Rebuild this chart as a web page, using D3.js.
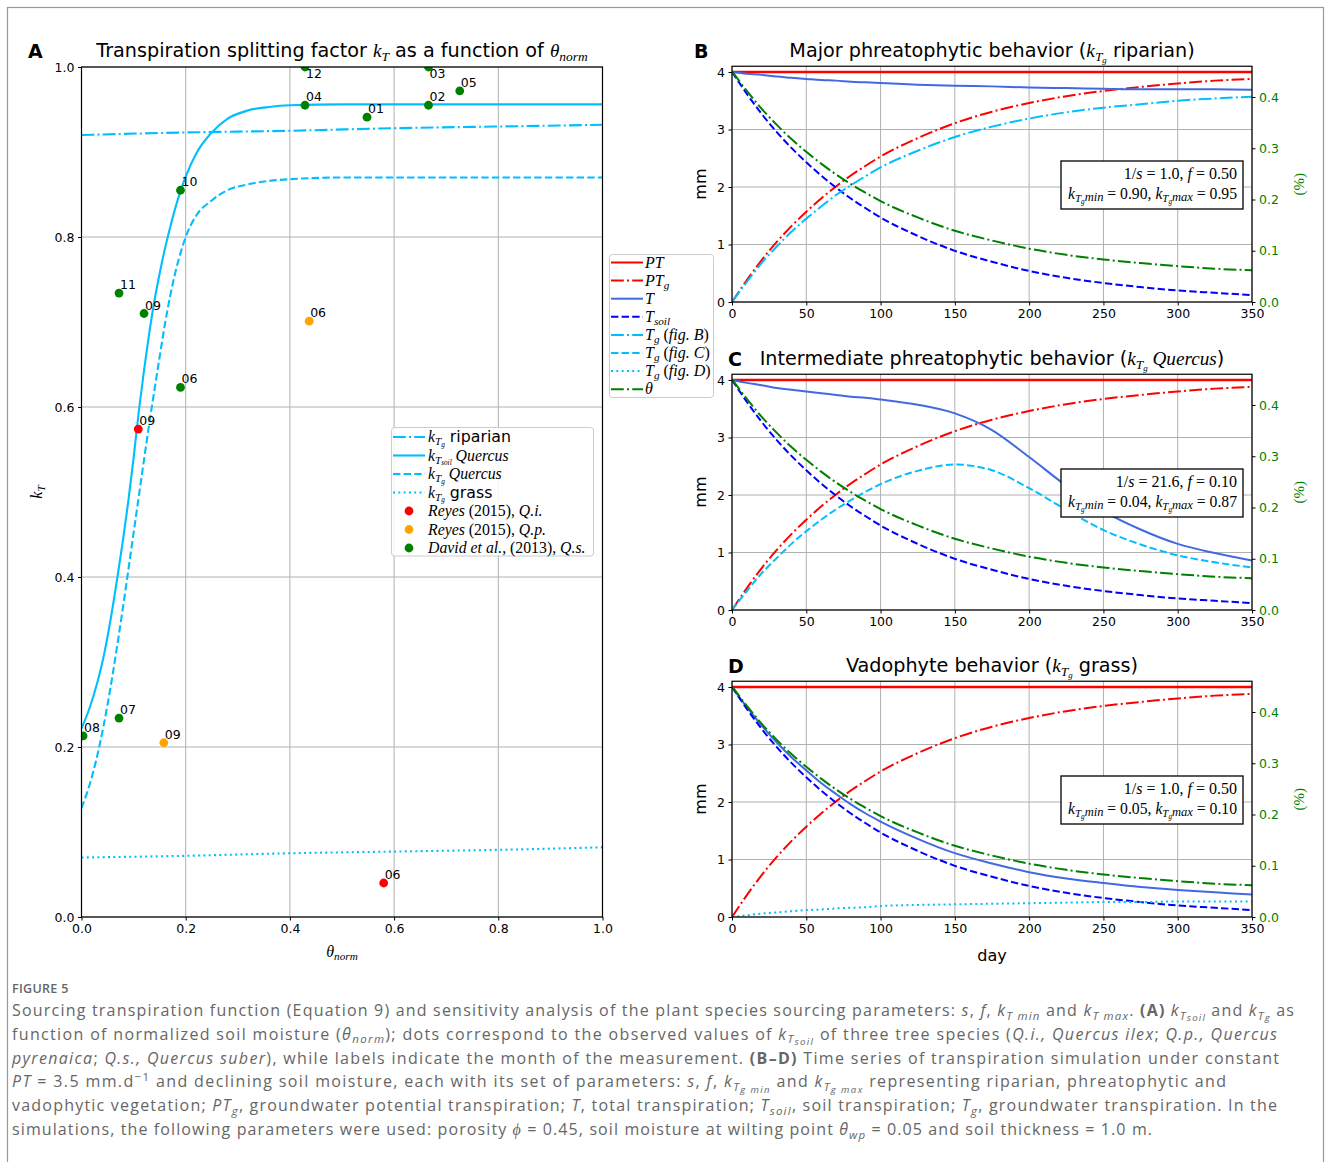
<!DOCTYPE html>
<html lang="en">
<head>
<meta charset="UTF-8">
<title>Figure 5 - transpiration splitting factor</title>
<script src="https://d3js.org/d3.v7.min.js"></script>
<style>
  body { margin: 0; background: #fff; }
  svg text { white-space: pre; }
</style>
</head>
<body>
<script>
// ---------- data: panel A (k_T vs theta_norm) ----------
const ripTheta = [0, 0.2, 0.4, 0.6, 0.8, 1.0];
const ripK     = [0.920, 0.923, 0.925, 0.928, 0.930, 0.932];

const soilTheta = [0, 0.015, 0.03, 0.042, 0.055, 0.069, 0.08, 0.09, 0.10, 0.11, 0.12, 0.13, 0.14, 0.15, 0.16, 0.17, 0.18, 0.19, 0.20, 0.22, 0.25, 0.28, 0.32, 0.36, 0.40, 0.50, 0.70, 1.0];
const soilK     = [0.222, 0.245, 0.275, 0.305, 0.347, 0.40, 0.445, 0.49, 0.54, 0.595, 0.643, 0.687, 0.725, 0.757, 0.786, 0.811, 0.834, 0.854, 0.871, 0.898, 0.923, 0.939, 0.949, 0.953, 0.955, 0.956, 0.956, 0.956];

const quercusTheta = [0, 0.02, 0.034, 0.05, 0.07, 0.088, 0.10, 0.11, 0.12, 0.13, 0.14, 0.15, 0.16, 0.17, 0.18, 0.19, 0.20, 0.22, 0.25, 0.28, 0.32, 0.36, 0.40, 0.50, 0.70, 1.0];
const quercusK     = [0.128, 0.165, 0.20, 0.25, 0.325, 0.40, 0.452, 0.495, 0.538, 0.58, 0.62, 0.659, 0.697, 0.73, 0.758, 0.781, 0.80, 0.825, 0.843, 0.855, 0.862, 0.866, 0.868, 0.870, 0.870, 0.870];

const grassTheta = [0, 0.2, 0.4, 0.6, 0.8, 1.0];
const grassK     = [0.070, 0.072, 0.075, 0.077, 0.079, 0.082];

// observed points (month labels)
const qiTheta = [0.109, 0.580], qiK = [0.574, 0.040], qiMonth = ["09", "06"];
const qpTheta = [0.437, 0.158], qpK = [0.701, 0.205], qpMonth = ["06", "09"];
const qsTheta = [0.548, 0.666, 0.666, 0.429, 0.726, 0.190, 0.072, 0.003, 0.120, 0.190, 0.072, 0.429];
const qsK     = [0.941, 0.955, 1.000, 0.955, 0.972, 0.623, 0.234, 0.213, 0.710, 0.855, 0.734, 1.000];
const qsMonth = ["01", "02", "03", "04", "05", "06", "07", "08", "09", "10", "11", "12"];

// ---------- data: panels B-D (time series) ----------
const days  = [0, 10, 20, 30, 40, 50, 60, 70, 80, 90, 100, 125, 150, 175, 200, 225, 250, 275, 300, 325, 350];
const pt    = [4, 4, 4, 4, 4, 4, 4, 4, 4, 4, 4, 4, 4, 4, 4, 4, 4, 4, 4, 4, 4];
const ptg   = [0, 0.38, 0.73, 1.04, 1.32, 1.57, 1.80, 2.01, 2.20, 2.37, 2.53, 2.85, 3.11, 3.31, 3.46, 3.58, 3.67, 3.74, 3.80, 3.85, 3.88];
const tsoil = [4, 3.62, 3.27, 2.96, 2.68, 2.43, 2.20, 1.99, 1.80, 1.63, 1.47, 1.15, 0.89, 0.70, 0.54, 0.42, 0.33, 0.26, 0.20, 0.16, 0.12];
const theta = [0.450, 0.412, 0.377, 0.346, 0.318, 0.293, 0.270, 0.249, 0.230, 0.213, 0.197, 0.165, 0.139, 0.120, 0.104, 0.092, 0.083, 0.076, 0.070, 0.065, 0.062];

const tgB = [0, 0.35, 0.68, 0.96, 1.22, 1.45, 1.66, 1.86, 2.03, 2.19, 2.34, 2.63, 2.87, 3.05, 3.19, 3.30, 3.38, 3.44, 3.50, 3.54, 3.57];
const tB  = [4, 3.97, 3.95, 3.92, 3.90, 3.88, 3.86, 3.85, 3.83, 3.82, 3.81, 3.78, 3.76, 3.75, 3.73, 3.72, 3.71, 3.70, 3.70, 3.70, 3.69];
const tgC = [0, 0.33, 0.64, 0.90, 1.15, 1.37, 1.57, 1.75, 1.91, 2.06, 2.19, 2.42, 2.53, 2.43, 2.12, 1.74, 1.39, 1.14, 0.95, 0.83, 0.74];
const tC  = [4, 3.95, 3.91, 3.86, 3.83, 3.80, 3.77, 3.74, 3.71, 3.69, 3.66, 3.57, 3.42, 3.13, 2.66, 2.16, 1.72, 1.40, 1.15, 0.99, 0.86];
const tgD = [0, 0.03, 0.06, 0.08, 0.10, 0.12, 0.13, 0.15, 0.16, 0.17, 0.19, 0.21, 0.22, 0.23, 0.24, 0.25, 0.26, 0.26, 0.27, 0.27, 0.27];
const tD  = [4, 3.65, 3.33, 3.04, 2.78, 2.55, 2.33, 2.14, 1.96, 1.80, 1.66, 1.36, 1.11, 0.93, 0.78, 0.67, 0.59, 0.52, 0.47, 0.43, 0.39];

const kTicks   = [0, 0.2, 0.4, 0.6, 0.8, 1.0];
const dayTicks = [0, 50, 100, 150, 200, 250, 300, 350];
const mmTicks  = [0, 1, 2, 3, 4];
const pctTicks = [0, 0.1, 0.2, 0.3, 0.4];

// ---------- setup ----------
const W = 1331, H = 1162;
const SANS = "DejaVu Sans", SERIF = "Liberation Serif", CAP = "Open Sans";
const DASHDOT = "12.8,3.2,2,3.2", DASHED = "7.4,3.2", DOTTED = "2,3.3";

const STY = {
  s:   {f: SANS},
  r:   {f: SERIF},
  m:   {f: SERIF, i: true},
  ms:  {f: SERIF, i: true, k: 0.7, d: 0.2},
  mss: {f: SERIF, i: true, k: 0.46, d: 0.3},
  mn:  {f: SERIF, i: true, k: 0.8, d: 0.12},
  c:   {f: CAP},
  ci:  {f: CAP, i: true},
  cb:  {f: CAP, w: 700},
  cs:  {f: CAP, i: true, k: 0.72, d: 0.22},
  css: {f: CAP, i: true, k: 0.6, d: 0.34},
  cp:  {f: CAP, k: 0.72, d: -0.4}
};

// writes mixed-style text into a <text> element
function rich(el, parts, size) {
  let cur = 0;
  parts.forEach(([txt, key]) => {
    const st = STY[key];
    const off = (st.d || 0) * size;
    el.append("tspan")
      .attr("dy", off - cur)
      .attr("font-family", st.f)
      .attr("font-style", st.i ? "italic" : "normal")
      .attr("font-weight", st.w || 400)
      .attr("font-size", size * (st.k || 1))
      .text(txt);
    cur = off;
  });
  return el;
}

const svg = d3.select("body").append("svg").attr("width", W).attr("height", H);
svg.append("rect").attr("width", W).attr("height", H).attr("fill", "#fff");
svg.append("rect").attr("x", 7.5).attr("y", 7.5).attr("width", 1316).attr("height", 1180)
   .attr("fill", "none").attr("stroke", "#9a9a9a").attr("stroke-width", 1.2);

const defs = svg.append("defs");

function styleAxis(g, color) {
  g.select(".domain").remove();
  g.selectAll(".tick line").attr("stroke", "#000").attr("stroke-width", 1);
  g.selectAll(".tick text").attr("font-family", SANS).attr("font-size", 12.5).attr("fill", color || "#000");
}

// ================= Panel A =================
const xA = d3.scaleLinear([0, 1], [81.5, 602.5]);
const yA = d3.scaleLinear([0, 1], [917, 67]);
const gA = svg.append("g");

defs.append("clipPath").attr("id", "clipA").append("rect")
    .attr("x", xA(0)).attr("y", yA(1)).attr("width", xA(1) - xA(0)).attr("height", yA(0) - yA(1));

gA.selectAll(".gxa").data(kTicks).join("line")
  .attr("x1", d => xA(d)).attr("x2", d => xA(d)).attr("y1", yA(0)).attr("y2", yA(1))
  .attr("stroke", "#b0b0b0").attr("stroke-width", 1);
gA.selectAll(".gya").data(kTicks).join("line")
  .attr("y1", d => yA(d)).attr("y2", d => yA(d)).attr("x1", xA(0)).attr("x2", xA(1))
  .attr("stroke", "#b0b0b0").attr("stroke-width", 1);

const curvesA = [
  {xs: ripTheta, ys: ripK, dash: DASHDOT},
  {xs: soilTheta, ys: soilK, dash: null},
  {xs: quercusTheta, ys: quercusK, dash: DASHED},
  {xs: grassTheta, ys: grassK, dash: DOTTED}
];
const lineA = d3.line().x(d => xA(d[0])).y(d => yA(d[1])).curve(d3.curveMonotoneX);
const plotA = gA.append("g").attr("clip-path", "url(#clipA)");
curvesA.forEach(c => {
  plotA.append("path").datum(d3.zip(c.xs, c.ys))
    .attr("d", lineA).attr("fill", "none").attr("stroke", "deepskyblue")
    .attr("stroke-width", 2.1).attr("stroke-dasharray", c.dash);
});

const obsGroups = [
  {xs: qiTheta, ys: qiK, lab: qiMonth, c: "red"},
  {xs: qpTheta, ys: qpK, lab: qpMonth, c: "orange"},
  {xs: qsTheta, ys: qsK, lab: qsMonth, c: "green"}
];
obsGroups.forEach(o => {
  plotA.selectAll(null).data(o.xs).join("circle")
    .attr("cx", d => xA(d)).attr("cy", (d, i) => yA(o.ys[i])).attr("r", 4.4).attr("fill", o.c);
});
obsGroups.forEach(o => {
  gA.selectAll(null).data(o.xs).join("text")
    .attr("x", d => xA(d) + 1)
    .attr("y", (d, i) => yA(o.ys[i]) + (o.ys[i] >= 0.999 ? 11 : -4))
    .attr("font-family", SANS).attr("font-size", 12.5)
    .text((d, i) => o.lab[i]);
});

gA.append("rect").attr("x", xA(0)).attr("y", yA(1)).attr("width", xA(1) - xA(0)).attr("height", yA(0) - yA(1))
  .attr("fill", "none").attr("stroke", "#000").attr("stroke-width", 1.2);

gA.append("g").attr("transform", `translate(0,${yA(0)})`)
  .call(d3.axisBottom(xA).tickValues(kTicks).tickSize(3.5).tickPadding(3.5).tickFormat(d3.format(".1f")))
  .call(styleAxis);
gA.append("g").attr("transform", `translate(${xA(0)},0)`)
  .call(d3.axisLeft(yA).tickValues(kTicks).tickSize(3.5).tickPadding(3.5).tickFormat(d3.format(".1f")))
  .call(styleAxis);

rich(gA.append("text").attr("x", 342).attr("y", 57).attr("text-anchor", "middle"),
  [["Transpiration splitting factor ", "s"], ["k", "m"], ["T", "ms"], [" as a function of ", "s"], ["θ", "m"], ["norm", "ms"]], 19.2);
gA.append("text").attr("x", 28).attr("y", 58).attr("font-family", SANS).attr("font-weight", 700)
  .attr("font-size", 19).text("A");
rich(gA.append("text").attr("x", 342).attr("y", 957).attr("text-anchor", "middle"),
  [["θ", "m"], ["norm", "ms"]], 16);
rich(gA.append("text").attr("transform", "translate(42,492) rotate(-90)").attr("text-anchor", "middle"),
  [["k", "m"], ["T", "ms"]], 16);

// legend A
const legA = gA.append("g");
legA.append("rect").attr("x", 391.5).attr("y", 427.5).attr("width", 202).attr("height", 128.5)
  .attr("rx", 3).attr("fill", "#fff").attr("fill-opacity", 0.85).attr("stroke", "#cccccc");
const legAItems = [
  {dash: DASHDOT, parts: [["k", "m"], ["T", "ms"], ["g", "mss"], [" riparian", "s"]]},
  {dash: null, parts: [["k", "m"], ["T", "ms"], ["soil", "mss"], [" Quercus", "m"]]},
  {dash: DASHED, parts: [["k", "m"], ["T", "ms"], ["g", "mss"], [" Quercus", "m"]]},
  {dash: DOTTED, parts: [["k", "m"], ["T", "ms"], ["g", "mss"], [" grass", "s"]]},
  {dot: "red", parts: [["Reyes", "m"], [" (2015), ", "r"], ["Q.i.", "m"]]},
  {dot: "orange", parts: [["Reyes", "m"], [" (2015), ", "r"], ["Q.p.", "m"]]},
  {dot: "green", parts: [["David et al.", "m"], [", (2013), ", "r"], ["Q.s.", "m"]]}
];
legAItems.forEach((it, i) => {
  const yy = 437 + i * 18.5;
  if (it.dot) {
    legA.append("circle").attr("cx", 409).attr("cy", yy).attr("r", 4.4).attr("fill", it.dot);
  } else {
    legA.append("line").attr("x1", 393).attr("x2", 425).attr("y1", yy).attr("y2", yy)
      .attr("stroke", "deepskyblue").attr("stroke-width", 2.1).attr("stroke-dasharray", it.dash);
  }
  rich(legA.append("text").attr("x", 428).attr("y", yy + 5), it.parts, 15.8);
});

// ================= Panels B-D =================
const xT = d3.scaleLinear([0, 350], [732, 1252]);
const letters = [];

function timePanel(cfg) {
  const bottom = cfg.bottom, top = bottom - 4.1 * 57.5;
  const y = d3.scaleLinear([0, 4.1], [bottom, top]);
  const yR = d3.scaleLinear([0, 0.46], [bottom, top]);
  const g = svg.append("g");
  const cid = "clip" + cfg.letter;
  defs.append("clipPath").attr("id", cid).append("rect")
    .attr("x", xT(0)).attr("y", top).attr("width", xT(350) - xT(0)).attr("height", bottom - top);

  g.selectAll(null).data(dayTicks).join("line")
    .attr("x1", d => xT(d)).attr("x2", d => xT(d)).attr("y1", bottom).attr("y2", top)
    .attr("stroke", "#b0b0b0").attr("stroke-width", 1);
  g.selectAll(null).data(mmTicks).join("line")
    .attr("y1", d => y(d)).attr("y2", d => y(d)).attr("x1", xT(0)).attr("x2", xT(350))
    .attr("stroke", "#b0b0b0").attr("stroke-width", 1);

  const plot = g.append("g").attr("clip-path", `url(#${cid})`);
  const line = d3.line().x(d => xT(d[0])).y(d => y(d[1])).curve(d3.curveMonotoneX);
  const series = [
    {v: pt, c: "red", dash: null, w: 2.4},
    {v: ptg, c: "red", dash: DASHDOT, w: 2},
    {v: cfg.t, c: "royalblue", dash: null, w: 2},
    {v: tsoil, c: "blue", dash: DASHED, w: 2},
    {v: cfg.tg, c: "deepskyblue", dash: cfg.tgDash, w: 2}
  ];
  series.forEach(s => {
    plot.append("path").datum(d3.zip(days, s.v)).attr("d", line)
      .attr("fill", "none").attr("stroke", s.c).attr("stroke-width", s.w).attr("stroke-dasharray", s.dash);
  });
  const lineR = d3.line().x(d => xT(d[0])).y(d => yR(d[1])).curve(d3.curveMonotoneX);
  plot.append("path").datum(d3.zip(days, theta)).attr("d", lineR)
    .attr("fill", "none").attr("stroke", "green").attr("stroke-width", 2).attr("stroke-dasharray", DASHDOT);

  // parameter box
  g.append("rect").attr("x", 1061).attr("y", bottom - 141).attr("width", 182).attr("height", 48)
    .attr("fill", "#fff").attr("stroke", "#000").attr("stroke-width", 1.3);
  rich(g.append("text").attr("x", 1237).attr("y", bottom - 123).attr("text-anchor", "end"),
    [["1/", "r"], ["s", "m"], [" = " + cfg.s + ", ", "r"], ["f", "m"], [" = " + cfg.f, "r"]], 16);
  rich(g.append("text").attr("x", 1237).attr("y", bottom - 103).attr("text-anchor", "end")
      .attr("textLength", 169).attr("lengthAdjust", "spacingAndGlyphs"),
    [["k", "m"], ["T", "ms"], ["g", "mss"], ["min", "mn"], [" = " + cfg.kmin + ", ", "r"],
     ["k", "m"], ["T", "ms"], ["g", "mss"], ["max", "mn"], [" = " + cfg.kmax, "r"]], 16);

  g.append("rect").attr("x", xT(0)).attr("y", top).attr("width", xT(350) - xT(0)).attr("height", bottom - top)
    .attr("fill", "none").attr("stroke", "#000").attr("stroke-width", 1.2);

  g.append("g").attr("transform", `translate(0,${bottom})`)
    .call(d3.axisBottom(xT).tickValues(dayTicks).tickSize(3.5).tickPadding(3.5).tickFormat(d3.format("d")))
    .call(styleAxis);
  g.append("g").attr("transform", `translate(${xT(0)},0)`)
    .call(d3.axisLeft(y).tickValues(mmTicks).tickSize(3.5).tickPadding(3.5).tickFormat(d3.format("d")))
    .call(styleAxis);
  g.append("g").attr("transform", `translate(${xT(350)},0)`)
    .call(d3.axisRight(yR).tickValues(pctTicks).tickSize(3.5).tickPadding(3.5).tickFormat(d3.format(".1f")))
    .call(a => styleAxis(a, "green"));

  const mid = (top + bottom) / 2;
  g.append("text").attr("transform", `translate(706,${mid}) rotate(-90)`).attr("text-anchor", "middle")
    .attr("font-family", SANS).attr("font-size", 16).text("mm");
  g.append("text").attr("transform", `translate(1304,${mid}) rotate(-90)`).attr("text-anchor", "middle")
    .attr("font-family", SERIF).attr("font-size", 15).attr("fill", "green").text("(%)");

  rich(g.append("text").attr("x", 992).attr("y", top - 9).attr("text-anchor", "middle"), cfg.title, 19.2);
  letters.push({t: cfg.letter, x: cfg.letterX, y: top - 8});
  if (cfg.dayLabel) {
    g.append("text").attr("x", 992).attr("y", bottom + 44).attr("text-anchor", "middle")
      .attr("font-family", SANS).attr("font-size", 16).text("day");
  }
}

const kTg = [["k", "m"], ["T", "ms"], ["g", "mss"]];
timePanel({letter: "B", letterX: 694, bottom: 302, t: tB, tg: tgB, tgDash: DASHDOT,
  s: "1.0", f: "0.50", kmin: "0.90", kmax: "0.95",
  title: [["Major phreatophytic behavior (", "s"], ...kTg, [" riparian)", "s"]]});
timePanel({letter: "C", letterX: 728, bottom: 610, t: tC, tg: tgC, tgDash: DASHED,
  s: "21.6", f: "0.10", kmin: "0.04", kmax: "0.87",
  title: [["Intermediate phreatophytic behavior (", "s"], ...kTg, [" Quercus", "m"], [")", "s"]]});
timePanel({letter: "D", letterX: 728, bottom: 917, t: tD, tg: tgD, tgDash: DOTTED, dayLabel: true,
  s: "1.0", f: "0.50", kmin: "0.05", kmax: "0.10",
  title: [["Vadophyte behavior (", "s"], ...kTg, [" grass)", "s"]]});

// legend for B-D
const legB = svg.append("g");
legB.append("rect").attr("x", 609.5).attr("y", 254.5).attr("width", 104).attr("height", 143)
  .attr("rx", 3).attr("fill", "#fff").attr("fill-opacity", 0.85).attr("stroke", "#cccccc");
const legBItems = [
  {c: "red", dash: null, parts: [["PT", "m"]]},
  {c: "red", dash: DASHDOT, parts: [["PT", "m"], ["g", "ms"]]},
  {c: "royalblue", dash: null, parts: [["T", "m"]]},
  {c: "blue", dash: DASHED, parts: [["T", "m"], ["soil", "ms"]]},
  {c: "deepskyblue", dash: DASHDOT, parts: [["T", "m"], ["g", "ms"], [" (", "r"], ["fig. B", "m"], [")", "r"]]},
  {c: "deepskyblue", dash: DASHED, parts: [["T", "m"], ["g", "ms"], [" (", "r"], ["fig. C", "m"], [")", "r"]]},
  {c: "deepskyblue", dash: DOTTED, parts: [["T", "m"], ["g", "ms"], [" (", "r"], ["fig. D", "m"], [")", "r"]]},
  {c: "green", dash: DASHDOT, parts: [["θ", "m"]]}
];
legBItems.forEach((it, i) => {
  const yy = 262.5 + i * 18.1;
  legB.append("line").attr("x1", 611).attr("x2", 643).attr("y1", yy).attr("y2", yy)
    .attr("stroke", it.c).attr("stroke-width", 2).attr("stroke-dasharray", it.dash);
  rich(legB.append("text").attr("x", 645).attr("y", yy + 5), it.parts, 16);
});

// panel letters on top
letters.forEach(l => {
  svg.append("text").attr("x", l.x).attr("y", l.y).attr("font-family", SANS).attr("font-weight", 700)
    .attr("font-size", 19).text(l.t);
});

// ================= caption =================
const cap = svg.append("g").attr("fill", "#666");
cap.append("text").attr("x", 12).attr("y", 993).attr("font-family", CAP).attr("font-weight", 600)
  .attr("font-size", 12.5).attr("letter-spacing", 0.3).text("FIGURE 5");

const capLines = [
  {w: 1282, parts: [["Sourcing transpiration function (Equation 9) and sensitivity analysis of the plant species sourcing parameters: ", "c"],
    ["s", "ci"], [", ", "c"], ["f", "ci"], [", ", "c"], ["k", "ci"], ["T min", "cs"], [" and ", "c"], ["k", "ci"], ["T max", "cs"], [". ", "c"],
    ["(A)", "cb"], [" ", "c"], ["k", "ci"], ["T", "cs"], ["soil", "css"], [" and ", "c"], ["k", "ci"], ["T", "cs"], ["g", "css"], [" as", "c"]]},
  {w: 1265, parts: [["function of normalized soil moisture (", "c"], ["θ", "ci"], ["norm", "cs"], ["); dots correspond to the observed values of ", "c"],
    ["k", "ci"], ["T", "cs"], ["soil", "css"], [" of three tree species (", "c"], ["Q.i., Quercus ilex", "ci"], ["; ", "c"], ["Q.p., Quercus", "ci"]]},
  {w: 1267, parts: [["pyrenaica", "ci"], ["; ", "c"], ["Q.s., Quercus suber", "ci"],
    ["), while labels indicate the month of the measurement. ", "c"], ["(B–D)", "cb"], [" Time series of transpiration simulation under constant", "c"]]},
  {w: 1214, parts: [["PT", "ci"], [" = 3.5 mm.d", "c"], ["−1", "cp"], [" and declining soil moisture, each with its set of parameters: ", "c"],
    ["s", "ci"], [", ", "c"], ["f", "ci"], [", ", "c"], ["k", "ci"], ["T", "cs"], ["g min", "css"], [" and ", "c"], ["k", "ci"], ["T", "cs"], ["g max", "css"],
    [" representing riparian, phreatophytic and", "c"]]},
  {w: 1265, parts: [["vadophytic vegetation; ", "c"], ["PT", "ci"], ["g", "cs"], [", groundwater potential transpiration; ", "c"], ["T", "ci"],
    [", total transpiration; ", "c"], ["T", "ci"], ["soil", "cs"], [", soil transpiration; ", "c"], ["T", "ci"], ["g", "cs"],
    [", groundwater transpiration. In the", "c"]]},
  {w: 1140, parts: [["simulations, the following parameters were used: porosity ", "c"], ["ϕ", "ci"], [" = 0.45, soil moisture at wilting point ", "c"],
    ["θ", "ci"], ["wp", "cs"], [" = 0.05 and soil thickness = 1.0 m.", "c"]]}
];
capLines.forEach((ln, i) => {
  const t = cap.append("text").attr("x", 12).attr("y", 1016 + i * 23.8)
    .attr("textLength", ln.w).attr("lengthAdjust", "spacing");
  rich(t, ln.parts, 16);
});
</script>
</body>
</html>
